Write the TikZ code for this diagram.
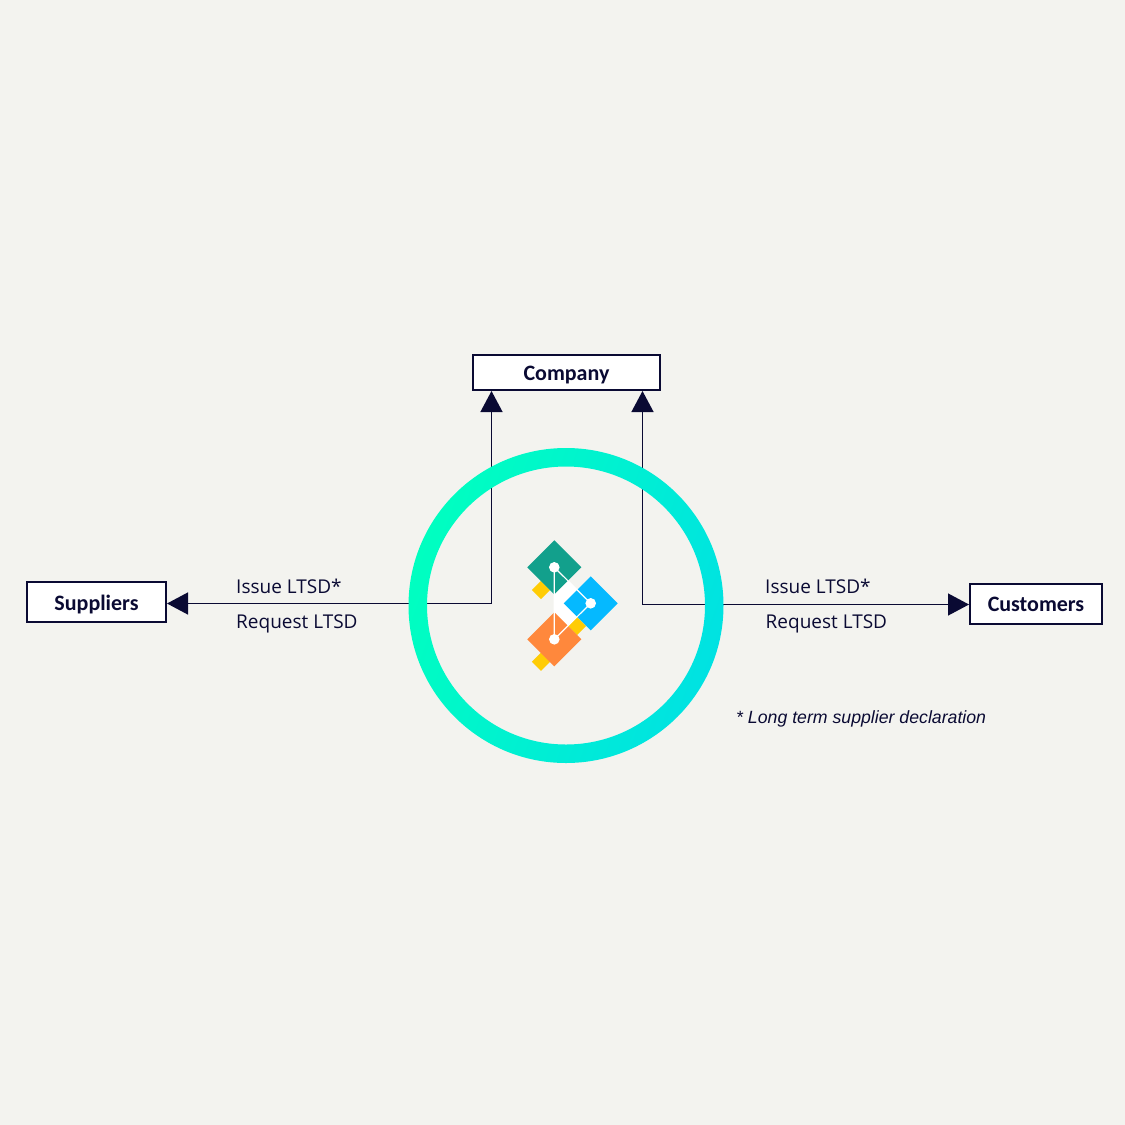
\documentclass[tikz,border=0pt]{standalone}
\usepackage{fontspec}
\setmainfont{Carlito}
\newfontfamily\notefont{Liberation Sans}
\newfontfamily\labelfont{Open Sans}
\usetikzlibrary{arrows.meta}
\definecolor{paper}{HTML}{F3F3EF}
\definecolor{navy}{HTML}{0A0A33}
\definecolor{leaf}{HTML}{12A08C}
\definecolor{sky}{HTML}{05B9FF}
\definecolor{tangerine}{HTML}{FF883C}
\definecolor{sun}{HTML}{FFCC05}
\tikzset{party/.style = {draw = navy, fill = white, line width = 2pt, minimum height = 35pt,
                         inner sep = 0pt, text = navy, text height = 16pt, text depth = 0pt,
                         font = \fontsize{22}{22}\selectfont\bfseries},
         flow/.style = {draw = navy, line width = 1.3pt},
         flowtip/.style = {-{Triangle[length = 21pt, width = 22pt]}, flow},
         caption/.style = {anchor = west, inner sep = 0pt, text = navy, font = \fontsize{19}{21}\selectfont\labelfont},
         diamond/.style = {rotate = 45, minimum size = 38.2pt, inner sep = 0pt, fill = #1},
         tab/.style = {rotate = 45, minimum size = 13pt, inner sep = 0pt, fill = sun},
         joint/.style = {circle, fill = white, minimum size = 10.6pt, inner sep = 0pt},
         link/.style = {draw = white, line width = 1.2pt}}

\begin{document}
\begin{tikzpicture}[x = 1pt, y = -1pt]
      \useasboundingbox [fill = paper] (0, 0) rectangle (1125, 1125);
      % boxes
      \node [party, minimum width = 187pt] (company) at (566.5, 372.5) {Company};
      \node [party, minimum width = 139pt, minimum height = 40pt] (suppliers) at (96.5, 602) {Suppliers};
      \node [party, minimum width = 132pt, minimum height = 40pt, text height = 14pt] (customers) at (1036, 604) {Customers};
      % connectors, the ring goes over them
      \coordinate (issue) at (491.5, 603.5);
      \coordinate (request) at (642.5, 604.5);
      \draw [flowtip] (issue) -- (suppliers.east |- issue);
      \draw [flowtip] (issue) -- (issue |- company.south);
      \draw [flowtip] (request) -- (customers.west |- request);
      \draw [flowtip] (request) -- (request |- company.south);
      \shade [left color = {rgb,255:red,0;green,255;blue,192}, right color = {rgb,255:red,0;green,226;blue,226},
              shading angle = 70, even odd rule]
        (566, 605.5) circle (157.5) circle (139);
      % logo
      \coordinate (top) at (554.3, 567.3);
      \coordinate (mid) at (590.7, 603.3);
      \coordinate (low) at (554.3, 639.3);
      \fill [white] (top) -- (mid) -- (low) -- cycle;
      \node [tab] (tabtop) at (541, 590) {};
      \node [tab] (tabmid) at (577, 626) {};
      \node [tab] (tablow) at (541, 661.7) {};
      \node [diamond = leaf] (boxtop) at (top) {};
      \node [diamond = sky] (boxmid) at (mid) {};
      \node [diamond = tangerine] (boxlow) at (low) {};
      \draw [link] (top) -- (mid) -- (low) -- cycle;
      \node [joint] (jointtop) at (top) {};
      \node [joint] (jointmid) at (mid) {};
      \node [joint] (jointlow) at (low) {};
      % labels
      \node [caption] (issueleft) at (236, 586.5) {Issue LTSD*};
      \node [caption] (requestleft) at (236, 624) {Request LTSD};
      \node [caption] (issueright) at (765, 586.5) {Issue LTSD*};
      \node [caption] (requestright) at (765.5, 624) {Request LTSD};
      \node [caption, font = \fontsize{17.7}{18}\selectfont\notefont\itshape] (note) at (736, 719) {* Long term supplier declaration};
    \end{tikzpicture}
\end{document}
